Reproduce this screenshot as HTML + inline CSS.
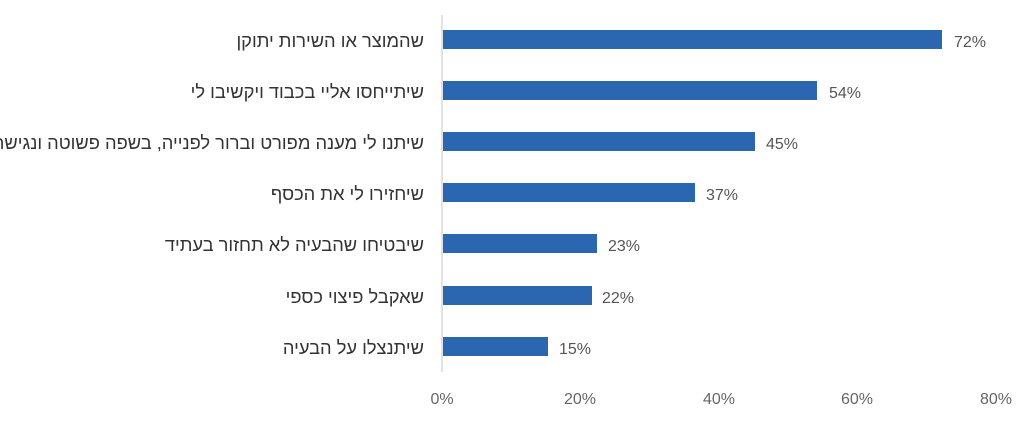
<!DOCTYPE html>
<html><head><meta charset="utf-8"><style>
body{margin:0;width:1024px;height:437px;background:#fff;overflow:hidden;font-family:"Liberation Sans","Noto Sans CJK SC",sans-serif;position:relative;}
.l{position:absolute;right:600px;direction:rtl;text-align:right;white-space:nowrap;font-size:18.3px;color:#333;line-height:20px;font-family:"Liberation Sans","DejaVu Sans",sans-serif;}
</style></head><body>
<svg width="1024" height="437" xmlns="http://www.w3.org/2000/svg" font-family="Liberation Sans, DejaVu Sans, sans-serif" style="position:absolute;left:0;top:0">
<line x1="442" y1="15" x2="442" y2="372" stroke="#d9d9d9" stroke-width="1.5"/>
<g fill="#2b67b0">
<rect x="443" y="30" width="499" height="19"/>
<rect x="443" y="81" width="374" height="19"/>
<rect x="443" y="132" width="312" height="19"/>
<rect x="443" y="183" width="252" height="19"/>
<rect x="443" y="234" width="154" height="19"/>
<rect x="443" y="286" width="149" height="19"/>
<rect x="443" y="337" width="105" height="19"/>
</g>
<g fill="#555" font-size="16">
<text x="954" y="47">72%</text>
<text x="829" y="98">54%</text>
<text x="766" y="149">45%</text>
<text x="706" y="200">37%</text>
<text x="608" y="251">23%</text>
<text x="602" y="303">22%</text>
<text x="559" y="354">15%</text>
</g>
<g fill="#666" font-size="16" text-anchor="middle">
<text x="442" y="404">0%</text>
<text x="580" y="404">20%</text>
<text x="719" y="404">40%</text>
<text x="857" y="404">60%</text>
<text x="996" y="404">80%</text>
</g>
</svg>
<div class="l" style="top:31px">שהמוצר או השירות יתוקן</div>
<div class="l" style="top:82px">שיתייחסו אליי בכבוד ויקשיבו לי</div>
<div class="l" style="top:133px">שיתנו לי מענה מפורט וברור לפנייה, בשפה פשוטה ונגישה</div>
<div class="l" style="top:184px">שיחזירו לי את הכסף</div>
<div class="l" style="top:235px">שיבטיחו שהבעיה לא תחזור בעתיד</div>
<div class="l" style="top:287px">שאקבל פיצוי כספי</div>
<div class="l" style="top:338px">שיתנצלו על הבעיה</div>
</body></html>
